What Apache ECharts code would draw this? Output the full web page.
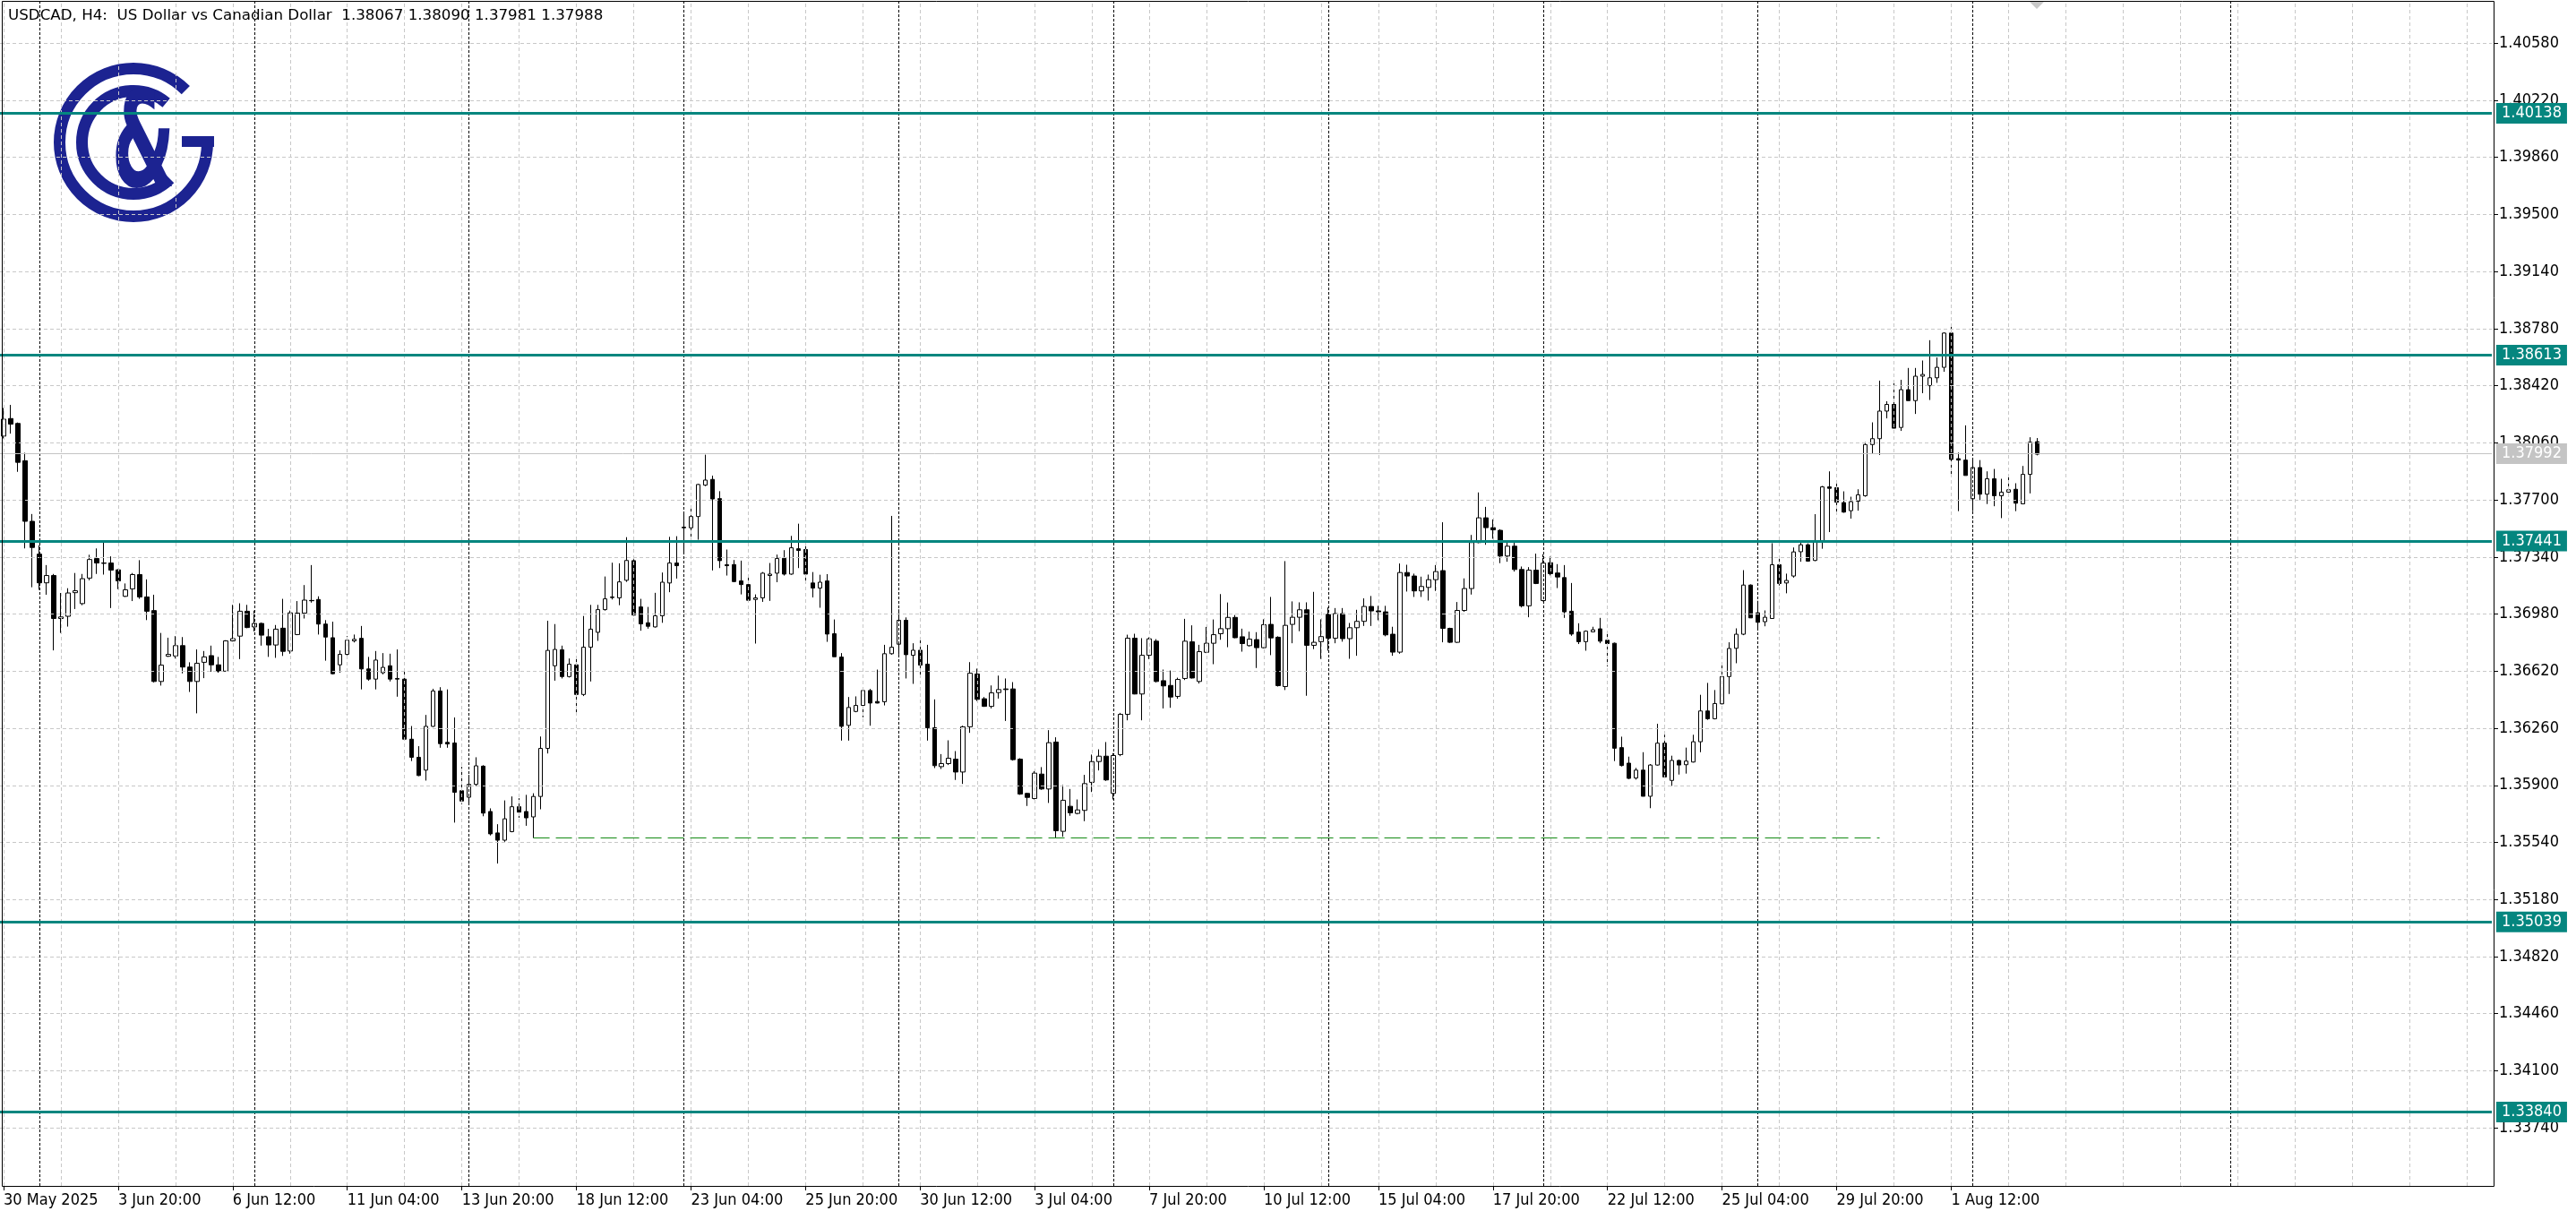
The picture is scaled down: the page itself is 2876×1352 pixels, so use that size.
<!DOCTYPE html>
<html>
<head>
<meta charset="utf-8">
<script src="https://cdn.jsdelivr.net/npm/echarts@6/dist/echarts.min.js"></script>
<style>
html,body{margin:0;padding:0;background:#fff;}
#chart{width:2876px;height:1352px;}
</style>
</head>
<body>
<div id="chart"></div>
<script>
// ---- DATA (USDCAD H4) ----
const title = 'USDCAD, H4:  US Dollar vs Canadian Dollar  1.38067 1.38090 1.37981 1.37988';

const tickLabels = ['30 May 2025','3 Jun 20:00','6 Jun 12:00','11 Jun 04:00','13 Jun 20:00','18 Jun 12:00',
  '23 Jun 04:00','25 Jun 20:00','30 Jun 12:00','3 Jul 04:00','7 Jul 20:00','10 Jul 12:00','15 Jul 04:00',
  '17 Jul 20:00','22 Jul 12:00','25 Jul 04:00','29 Jul 20:00','1 Aug 12:00'];

const yTicks = [1.33740,1.34100,1.34460,1.34820,1.35180,1.35540,1.35900,1.36260,1.36620,1.36980,
  1.37340,1.37700,1.38060,1.38420,1.38780,1.39140,1.39500,1.39860,1.40220,1.40580];

const levels = [1.40138, 1.38613, 1.37441, 1.35039, 1.33840];
const currentPrice = 1.37992;
const supportLine = {fromBar: 74, toBar: 262, price: 1.35568};

const open = [
1.38102,1.38213,1.38182,1.37947,1.37565,1.37358,1.37177,1.37223,1.36952,1.36966,
1.37115,1.37046,1.37207,1.37330,1.37302,1.37302,1.37259,1.37092,1.37139,1.37229,
1.37088,1.37002,1.36555,1.36714,1.36716,1.36781,1.36646,1.36555,1.36676,1.36718,
1.36660,1.36620,1.36811,1.36841,1.36998,1.36899,1.36921,1.36837,1.36785,1.36891,
1.36747,1.36851,1.36986,1.37066,1.37072,1.36917,1.36831,1.36660,1.36726,1.36811,
1.36827,1.36634,1.36570,1.36610,1.36654,1.36574,1.36570,1.36191,1.36077,1.35996,
1.36272,1.36495,1.36171,1.36167,1.35866,1.35825,1.35906,1.36021,1.35735,1.35600,
1.35554,1.35608,1.35765,1.35735,1.35701,1.35830,1.36133,1.36654,1.36755,1.36586,
1.36660,1.36473,1.36771,1.36865,1.37008,1.37084,1.37082,1.37193,1.37317,1.37025,
1.36925,1.36899,1.36969,1.37176,1.37302,1.37528,1.37524,1.37595,1.37793,1.37829,
1.37708,1.37291,1.37292,1.37189,1.37166,1.37072,1.37082,1.37223,1.37238,1.37332,
1.37232,1.37392,1.37387,1.37176,1.37144,1.37189,1.36856,1.36709,1.36278,1.36366,
1.36404,1.36498,1.36429,1.36427,1.36730,1.36790,1.36941,1.36720,1.36752,1.36664,
1.36263,1.36018,1.36037,1.36065,1.35984,1.36269,1.36602,1.36446,1.36398,1.36485,
1.36508,1.36508,1.36065,1.35849,1.35817,1.35971,1.35877,1.36173,1.35610,1.35768,
1.35723,1.35742,1.35919,1.36050,1.36084,1.35849,1.36094,1.36348,1.36828,1.36476,
1.36720,1.36809,1.36560,1.36530,1.36461,1.36574,1.36805,1.36555,1.36739,1.36796,
1.36856,1.36888,1.36959,1.36837,1.36781,1.36819,1.36768,1.36915,1.36834,1.36523,
1.36915,1.36960,1.37007,1.36783,1.36806,1.36979,1.36828,1.36983,1.36825,1.36894,
1.36934,1.37028,1.37000,1.36994,1.36853,1.36740,1.37242,1.37220,1.37126,1.37148,
1.37197,1.37254,1.36890,1.36802,1.37003,1.37141,1.37431,1.37587,1.37525,1.37508,
1.37346,1.37408,1.37261,1.37032,1.37257,1.37065,1.37304,1.37239,1.37210,1.36998,
1.36866,1.36806,1.36868,1.36887,1.36815,1.36796,1.36138,1.36040,1.35946,1.35996,
1.35831,1.36028,1.36166,1.35931,1.36057,1.36030,1.36047,1.36175,1.36369,1.36320,
1.36414,1.36586,1.36764,1.36853,1.37163,1.36988,1.36932,1.36952,1.37291,1.37176,
1.37220,1.37373,1.37417,1.37318,1.37435,1.37782,1.37777,1.37683,1.37632,1.37692,
1.37726,1.38049,1.38086,1.38260,1.38302,1.38157,1.38395,1.38326,1.38480,1.38420,
1.38470,1.38536,1.38752,1.37960,1.37951,1.37707,1.37904,1.37736,1.37833,1.37726,
1.37749,1.37767,1.37675,1.37861,1.38067];

const high = [
1.38279,1.38299,1.38188,1.37997,1.37611,1.37414,1.37289,1.37233,1.37113,1.37143,
1.37239,1.37233,1.37354,1.37394,1.37434,1.37344,1.37263,1.37173,1.37239,1.37320,
1.37199,1.37102,1.36861,1.36831,1.36841,1.36835,1.36676,1.36757,1.36747,1.36781,
1.36710,1.36815,1.37038,1.37048,1.37038,1.37002,1.36927,1.36887,1.36911,1.37076,
1.37002,1.37062,1.37163,1.37289,1.37092,1.36942,1.36932,1.36751,1.36841,1.36851,
1.36905,1.36710,1.36747,1.36734,1.36730,1.36757,1.36616,1.36274,1.36147,1.36344,
1.36509,1.36519,1.36505,1.36328,1.36017,1.35966,1.36077,1.36027,1.35755,1.35655,
1.35805,1.35830,1.35819,1.35840,1.35850,1.36208,1.36938,1.36917,1.36781,1.36700,
1.36700,1.36968,1.37038,1.37038,1.37217,1.37304,1.37300,1.37465,1.37326,1.37076,
1.37025,1.37114,1.37242,1.37467,1.37471,1.37618,1.37665,1.37801,1.37985,1.37853,
1.37755,1.37387,1.37321,1.37317,1.37223,1.37104,1.37245,1.37302,1.37355,1.37383,
1.37473,1.37550,1.37445,1.37245,1.37228,1.37232,1.36946,1.36734,1.36457,1.36461,
1.36508,1.36508,1.36630,1.36786,1.37599,1.37010,1.36959,1.36796,1.36828,1.36786,
1.36442,1.36097,1.36184,1.36116,1.36276,1.36677,1.36636,1.36457,1.36530,1.36592,
1.36574,1.36551,1.36071,1.35853,1.35990,1.36015,1.36248,1.36203,1.35902,1.35877,
1.35811,1.35966,1.36094,1.36127,1.36173,1.36103,1.36357,1.36850,1.36856,1.36828,
1.36833,1.36822,1.36630,1.36624,1.36579,1.36950,1.36909,1.36786,1.36899,1.36946,
1.37106,1.37053,1.36974,1.36888,1.36869,1.36866,1.36947,1.37088,1.36840,1.37314,
1.37060,1.37054,1.37054,1.37120,1.36947,1.37022,1.37018,1.37018,1.36924,1.37007,
1.37079,1.37094,1.37032,1.37032,1.36900,1.37299,1.37291,1.37235,1.37216,1.37229,
1.37289,1.37559,1.36894,1.37056,1.37205,1.37479,1.37747,1.37656,1.37577,1.37515,
1.37431,1.37431,1.37280,1.37276,1.37361,1.37357,1.37342,1.37295,1.37289,1.37176,
1.36922,1.36877,1.36900,1.36956,1.36866,1.36800,1.36207,1.36081,1.36010,1.36109,
1.36034,1.36288,1.36219,1.36087,1.36062,1.36138,1.36219,1.36471,1.36546,1.36501,
1.36661,1.36802,1.36890,1.37257,1.37167,1.37064,1.37003,1.37427,1.37342,1.37235,
1.37400,1.37432,1.37426,1.37610,1.37788,1.37880,1.37824,1.37754,1.37720,1.37767,
1.38064,1.38189,1.38452,1.38322,1.38448,1.38457,1.38532,1.38532,1.38579,1.38707,
1.38598,1.38757,1.38791,1.37998,1.38170,1.37951,1.37951,1.37880,1.37895,1.37833,
1.37852,1.37805,1.37914,1.38095,1.38090];

const low = [
1.38088,1.38118,1.37877,1.37394,1.37149,1.37133,1.37102,1.36751,1.36861,1.36901,
1.37012,1.37036,1.37193,1.37233,1.37229,1.37018,1.37137,1.37088,1.37062,1.37076,
1.36942,1.36549,1.36529,1.36710,1.36700,1.36606,1.36489,1.36354,1.36576,1.36616,
1.36610,1.36616,1.36807,1.36696,1.36891,1.36871,1.36781,1.36710,1.36704,1.36716,
1.36730,1.36847,1.36952,1.37052,1.36851,1.36686,1.36600,1.36610,1.36720,1.36801,
1.36505,1.36560,1.36505,1.36600,1.36555,1.36459,1.36187,1.36053,1.35958,1.35930,
1.36268,1.36137,1.36137,1.35665,1.35781,1.35775,1.35896,1.35705,1.35584,1.35407,
1.35544,1.35604,1.35695,1.35645,1.35568,1.35749,1.36101,1.36560,1.36574,1.36580,
1.36348,1.36463,1.36555,1.36811,1.37002,1.37072,1.37036,1.37183,1.36969,1.36875,
1.36888,1.36895,1.36925,1.37118,1.37204,1.37373,1.37449,1.37449,1.37787,1.37255,
1.37270,1.37223,1.37181,1.37104,1.37063,1.36794,1.37057,1.37063,1.37181,1.37223,
1.37228,1.37270,1.37170,1.37085,1.37020,1.36805,1.36711,1.36182,1.36182,1.36361,
1.36329,1.36276,1.36417,1.36404,1.36724,1.36724,1.36574,1.36540,1.36592,1.36182,
1.36009,1.36003,1.36028,1.35934,1.35909,1.36231,1.36432,1.36395,1.36385,1.36447,
1.36306,1.36056,1.35840,1.35770,1.35811,1.35872,1.35789,1.35567,1.35576,1.35708,
1.35717,1.35674,1.35858,1.35994,1.35928,1.35811,1.36084,1.36310,1.36474,1.36310,
1.36696,1.36549,1.36385,1.36389,1.36446,1.36564,1.36574,1.36542,1.36734,1.36664,
1.36818,1.36771,1.36828,1.36743,1.36775,1.36640,1.36764,1.36721,1.36523,1.36501,
1.36796,1.36872,1.36465,1.36759,1.36697,1.36749,1.36796,1.36806,1.36698,1.36717,
1.36905,1.36905,1.36941,1.36840,1.36717,1.36730,1.37122,1.37088,1.37088,1.37065,
1.37126,1.36802,1.36798,1.36798,1.36994,1.37103,1.37427,1.37417,1.37455,1.37301,
1.37310,1.37248,1.37022,1.36960,1.37169,1.37060,1.37224,1.37144,1.36956,1.36843,
1.36791,1.36749,1.36866,1.36796,1.36650,1.36053,1.36019,1.35940,1.35936,1.35831,
1.35756,1.36025,1.35953,1.35897,1.35968,1.35974,1.36044,1.36109,1.36313,1.36316,
1.36411,1.36476,1.36670,1.36847,1.36956,1.36890,1.36903,1.36952,1.37160,1.37111,
1.37210,1.37310,1.37310,1.37314,1.37392,1.37497,1.37623,1.37619,1.37582,1.37632,
1.37720,1.37994,1.37983,1.38214,1.38152,1.38135,1.38326,1.38242,1.38373,1.38330,
1.38438,1.38508,1.37854,1.37629,1.37854,1.37629,1.37698,1.37674,1.37660,1.37585,
1.37722,1.37629,1.37674,1.37741,1.37981];

const close = [
1.38209,1.38178,1.37937,1.37565,1.37400,1.37177,1.37223,1.36952,1.36962,1.37113,
1.37127,1.37203,1.37324,1.37302,1.37300,1.37257,1.37189,1.37133,1.37229,1.37088,
1.36998,1.36555,1.36658,1.36726,1.36781,1.36646,1.36555,1.36670,1.36710,1.36660,
1.36620,1.36811,1.36825,1.36998,1.36895,1.36921,1.36847,1.36785,1.36885,1.36745,
1.36988,1.36986,1.37068,1.37064,1.36917,1.36835,1.36604,1.36726,1.36815,1.36821,
1.36634,1.36570,1.36690,1.36644,1.36570,1.36570,1.36191,1.36077,1.35962,1.36272,
1.36495,1.36163,1.36161,1.35856,1.35801,1.35906,1.36023,1.35725,1.35594,1.35554,
1.35689,1.35765,1.35731,1.35695,1.35830,1.36133,1.36751,1.36757,1.36586,1.36664,
1.36473,1.36771,1.36885,1.37008,1.37076,1.37088,1.37183,1.37318,1.36974,1.36918,
1.36903,1.36969,1.37181,1.37302,1.37285,1.37524,1.37595,1.37797,1.37825,1.37706,
1.37317,1.37285,1.37185,1.37166,1.37067,1.37082,1.37238,1.37232,1.37330,1.37232,
1.37398,1.37381,1.37232,1.37144,1.37181,1.36854,1.36711,1.36272,1.36391,1.36404,
1.36498,1.36419,1.36419,1.36730,1.36771,1.36941,1.36724,1.36752,1.36658,1.36263,
1.36024,1.36037,1.36071,1.35984,1.36269,1.36607,1.36442,1.36398,1.36483,1.36504,
1.36504,1.36062,1.35845,1.35824,1.35977,1.35877,1.36169,1.35614,1.35806,1.35727,
1.35745,1.35911,1.36050,1.36084,1.35934,1.36088,1.36348,1.36828,1.36476,1.36720,
1.36824,1.36555,1.36527,1.36457,1.36568,1.36809,1.36577,1.36743,1.36796,1.36850,
1.36888,1.36959,1.36831,1.36794,1.36822,1.36768,1.36913,1.36830,1.36529,1.36909,
1.36960,1.37007,1.36783,1.36802,1.36838,1.36828,1.36983,1.36825,1.36894,1.36934,
1.37028,1.37000,1.36994,1.36849,1.36740,1.37242,1.37220,1.37126,1.37154,1.37197,
1.37248,1.36890,1.36802,1.37003,1.37141,1.37431,1.37587,1.37525,1.37511,1.37346,
1.37408,1.37261,1.37032,1.37257,1.37173,1.37301,1.37235,1.37214,1.36994,1.36854,
1.36806,1.36872,1.36881,1.36809,1.36794,1.36134,1.36025,1.35944,1.35996,1.35831,
1.36028,1.36166,1.35953,1.36057,1.36028,1.36053,1.36175,1.36369,1.36320,1.36416,
1.36586,1.36763,1.36853,1.37163,1.36956,1.36928,1.36960,1.37291,1.37173,1.37192,
1.37372,1.37417,1.37314,1.37435,1.37782,1.37773,1.37685,1.37623,1.37689,1.37732,
1.38049,1.38086,1.38260,1.38302,1.38152,1.38395,1.38326,1.38480,1.38491,1.38470,
1.38536,1.38752,1.37955,1.37951,1.37854,1.37904,1.37736,1.37833,1.37726,1.37749,
1.37764,1.37679,1.37861,1.38064,1.37988];

// ---- LAYOUT / STYLE ----
const W = 2876, H = 1352;
const totalSlots = 348;          // data bars + empty future slots
const labelEvery = 16;           // x label every 16 bars (64 h)
const gridEvery = 8;             // light vertical grid every 8 bars
const weekSeparators = [5, 35, 65, 95, 125, 155, 185, 215, 245, 275, 311];

const TEAL = '#05867f';
const AXIS_FONT = '"DejaVu Sans Condensed", "DejaVu Sans", sans-serif';
const GRID_COLOR = '#c8c8c8';

const categories = Array.from({length: totalSlots}, (_, i) => String(i));
const candleData = open.map((o, i) => [o, close[i], low[i], high[i]]);

const isLabelIdx = (idx) => idx % labelEvery === 0 && (idx / labelEvery) < tickLabels.length;

// grid lines as markLines (drawn at bar centres, like the terminal)
const gridLines = [];
for (let i = 0; i < totalSlots; i += gridEvery) {
  gridLines.push({xAxis: i, lineStyle: {color: GRID_COLOR, type: [4, 3], width: 1}});
}
yTicks.forEach(v => gridLines.push({yAxis: v, lineStyle: {color: GRID_COLOR, type: [4, 3], width: 1}}));
weekSeparators.forEach(i => gridLines.push({xAxis: i, lineStyle: {color: '#000', type: [3, 2], width: 1}}));

const boxLabel = (txt, bg) => ({show: true, position: 'end', distance: 5, formatter: txt,
    color: '#fff', backgroundColor: bg, padding: [3, 6, 3, 6],
    fontFamily: AXIS_FONT, fontSize: 18, lineHeight: 17});

const levelLines = levels.map(v => ({
  yAxis: v,
  lineStyle: {color: TEAL, width: 3, type: 'solid'},
  label: boxLabel(v.toFixed(5), TEAL)
}));
levelLines.push({
  yAxis: currentPrice,
  lineStyle: {color: '#c4c4c4', width: 1, type: 'solid'},
  label: boxLabel(currentPrice.toFixed(5), '#c4c4c4')
});
const supportStyle = {color: '#138a13', width: 1.2, type: [18, 7]};
levelLines.push([
  {coord: [supportLine.fromBar, supportLine.price], lineStyle: supportStyle, label: {show: false}},
  {coord: [supportLine.toBar, supportLine.price], lineStyle: supportStyle, label: {show: false}}
]);

const LOGO = '#1c2391';
const logoCx = 149, logoCy = 159;

const chart = echarts.init(document.getElementById('chart'), null, {renderer: 'canvas', width: W, height: H});

chart.setOption({
  animation: false,
  backgroundColor: '#fff',
  grid: {left: -2, right: W - 2782, top: 2, bottom: H - 1324, containLabel: false},
  xAxis: {
    type: 'category',
    data: categories,
    boundaryGap: true,
    axisLine: {show: false},
    axisTick: {show: true, alignWithLabel: true, interval: (idx) => isLabelIdx(idx), length: 5,
      lineStyle: {color: '#000', width: 1}},
    axisLabel: {
      show: true, interval: (idx) => isLabelIdx(idx), align: 'left', margin: 7,
      formatter: (val, idx) => isLabelIdx(idx) ? tickLabels[idx / labelEvery] : '',
      fontFamily: AXIS_FONT, fontSize: 18, color: '#000'
    },
    splitLine: {show: false}
  },
  yAxis: {
    type: 'value',
    position: 'right',
    min: 1.33374, max: 1.40841,
    offset: 2,
    scale: true,
    axisLine: {show: false},
    axisTick: {show: true, length: 5, customValues: yTicks, lineStyle: {color: '#000'}},
    axisLabel: {show: true, customValues: yTicks, margin: 6, formatter: (v) => Number(v).toFixed(5),
      fontFamily: AXIS_FONT, fontSize: 18, color: '#000'},
    splitLine: {show: false}
  },
  series: [
    {
      type: 'line', name: 'grid', z: 1, silent: true,
      data: categories.map(() => null), showSymbol: false,
      markLine: {silent: true, symbol: ['none', 'none'], animation: false, precision: 5,
        label: {show: false}, data: gridLines}
    },
    {
      type: 'candlestick', name: 'USDCAD', z: 3,
      data: candleData,
      barWidth: 5,
      clip: true,
      itemStyle: {color: '#ffffff', color0: '#000000', borderColor: '#000000', borderColor0: '#000000', borderWidth: 1},
      markLine: {silent: true, symbol: ['none', 'none'], animation: false, precision: 5, data: levelLines}
    }
  ],
  graphic: [
    {type: 'rect', z: 100, silent: true, shape: {x: 2.5, y: 1.5, width: 2782, height: 1323},
      style: {fill: 'none', stroke: '#000', lineWidth: 1}},
    {type: 'text', z: 100, x: 9, y: 18, silent: true,
      style: {text: title, font: '16.7px "DejaVu Sans"', fill: '#000', verticalAlign: 'middle', align: 'left'}},
    {type: 'polygon', z: 100, silent: true, shape: {points: [[2266, 2], [2282, 2], [2274, 10]]},
      style: {fill: '#c8c8c8'}},
    {type: 'group', z: 100, silent: true, children: [
      {type: 'arc', shape: {cx: logoCx, cy: logoCy, r: 82.5, startAngle: 0, endAngle: Math.PI * 1.75, clockwise: true},
        style: {stroke: LOGO, lineWidth: 13, fill: 'none'}},
      {type: 'rect', shape: {x: 203, y: 152, width: 36, height: 12}, style: {fill: LOGO}},
      {type: 'arc', shape: {cx: logoCx, cy: logoCy, r: 57.5, startAngle: Math.PI * 0.25, endAngle: Math.PI * 1.72, clockwise: true},
        style: {stroke: LOGO, lineWidth: 13, fill: 'none'}},
      {type: 'text', x: 160, y: 170, scaleX: 0.55,
        style: {text: '&', font: 'bold 148px "DejaVu Sans"', fill: LOGO, align: 'center', verticalAlign: 'middle'}}
    ]}
  ]
});
</script>
</body>
</html>
